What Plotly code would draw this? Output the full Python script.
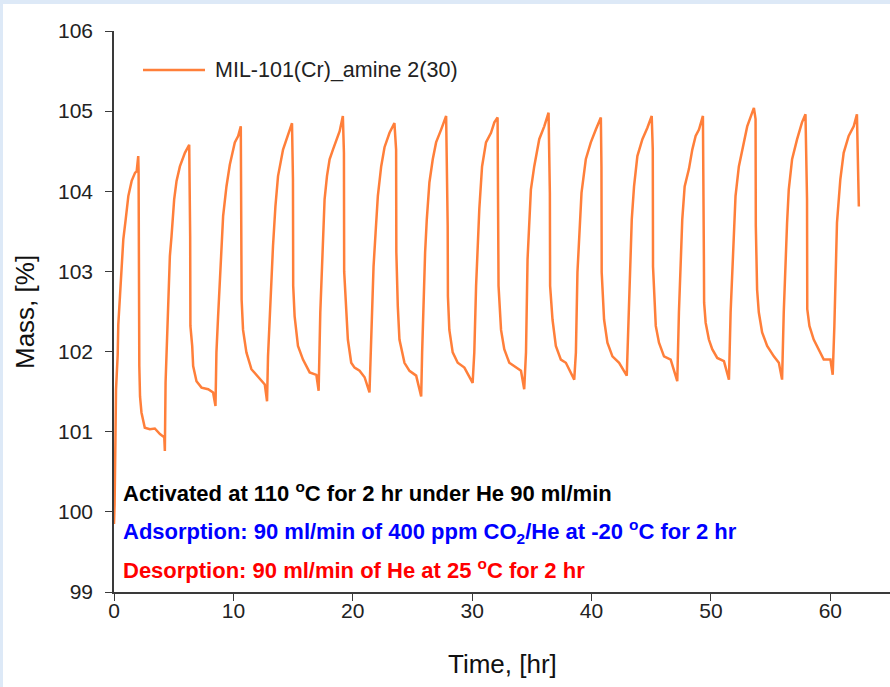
import plotly.graph_objects as go

# Thermogravimetric cycling record: sample mass vs. time
series_name = "MIL-101(Cr)_amine 2(30)"

time_hr = [
    0.00, 0.05, 0.12, 0.17, 0.31, 0.36, 0.50, 0.64, 0.78, 0.98, 1.20, 1.48, 1.76, 1.90, 2.03,
    2.06, 2.08, 2.12, 2.18, 2.30, 2.58, 3.00, 3.42, 3.85, 4.21, 4.26,
    4.32, 4.46, 4.54, 4.68, 4.82, 5.04, 5.24, 5.52, 5.94, 6.21, 6.30,
    6.38, 6.40, 6.55, 6.63, 6.91, 7.33, 7.89, 8.30, 8.50,
    8.58, 8.72, 8.86, 9.00, 9.14, 9.42, 9.70, 10.12, 10.40, 10.62,
    10.67, 10.69, 10.81, 11.09, 11.51, 12.07, 12.63, 12.82,
    12.90, 13.04, 13.18, 13.32, 13.52, 13.74, 14.16, 14.57, 14.91,
    14.99, 15.01, 15.13, 15.41, 15.83, 16.11, 16.39, 16.95, 17.14,
    17.28, 17.37, 17.50, 17.64, 17.84, 18.06, 18.34, 18.62, 18.90, 19.17,
    19.26, 19.28, 19.46, 19.59, 19.87, 20.15, 20.57, 20.99, 21.40,
    21.49, 21.63, 21.74, 21.91, 22.10, 22.38, 22.66, 23.08, 23.49,
    23.63, 23.65, 23.77, 23.91, 24.33, 24.75, 25.31, 25.73,
    25.81, 25.92, 26.06, 26.20, 26.42, 26.70, 26.98, 27.40, 27.82,
    27.95, 27.97, 28.09, 28.37, 28.79, 29.35, 30.04,
    30.18, 30.33, 30.46, 30.60, 30.83, 31.16, 31.58, 31.86, 32.13,
    32.19, 32.21, 32.42, 32.69, 33.11, 33.53, 34.09, 34.36,
    34.51, 34.64, 34.78, 34.92, 35.20, 35.62, 36.04, 36.40,
    36.51, 36.53, 36.73, 37.01, 37.43, 37.85, 38.55,
    38.69, 38.82, 38.96, 39.16, 39.52, 39.94, 40.36, 40.78,
    40.83, 40.85, 41.05, 41.33, 41.75, 42.31, 42.95,
    43.06, 43.23, 43.37, 43.56, 43.84, 44.26, 44.67, 45.04,
    45.13, 45.15, 45.38, 45.65, 46.07, 46.63, 47.18,
    47.32, 47.47, 47.60, 47.80, 48.16, 48.44, 48.72, 49.00, 49.33,
    49.41, 49.43, 49.56, 49.83, 50.11, 50.53, 51.09, 51.51,
    51.65, 51.78, 51.92, 52.06, 52.34, 52.62, 53.04, 53.60,
    53.74, 53.76, 53.87, 54.01, 54.29, 54.71, 55.27, 55.69, 55.96,
    56.10, 56.25, 56.38, 56.52, 56.80, 57.22, 57.63, 57.92,
    58.05, 58.07, 58.25, 58.61, 59.03, 59.45, 60.01, 60.20,
    60.34, 60.43, 60.56, 60.84, 61.12, 61.54, 61.96, 62.23,
    62.37, 62.39,
]

mass_pct = [
    99.85, 100.10, 100.90, 101.53, 101.96, 102.34, 102.69, 103.11, 103.40, 103.65, 103.94, 104.13, 104.23, 104.25, 104.44,
    104.25, 103.00, 101.82, 101.44, 101.24, 101.05, 101.03, 101.04, 100.97, 100.93, 100.76,
    101.61, 102.24, 102.57, 103.19, 103.44, 103.90, 104.13, 104.31, 104.48, 104.56, 104.58,
    103.44, 102.32, 102.07, 101.82, 101.63, 101.55, 101.53, 101.49, 101.32,
    101.99, 102.44, 102.86, 103.27, 103.69, 104.06, 104.33, 104.61, 104.69, 104.81,
    103.90, 102.65, 102.27, 101.99, 101.78, 101.68, 101.59, 101.38,
    101.94, 102.40, 102.90, 103.32, 103.81, 104.19, 104.52, 104.69, 104.85,
    104.15, 102.82, 102.44, 102.07, 101.90, 101.82, 101.74, 101.71, 101.51,
    102.49, 102.90, 103.32, 103.90, 104.19, 104.40, 104.52, 104.65, 104.75, 104.94,
    104.48, 103.00, 102.44, 102.15, 101.86, 101.80, 101.76, 101.68, 101.49,
    101.86, 102.61, 103.06, 103.48, 103.94, 104.31, 104.55, 104.73, 104.85,
    104.52, 103.24, 102.57, 102.15, 101.86, 101.76, 101.70, 101.44,
    101.99, 102.65, 103.24, 103.65, 104.11, 104.40, 104.61, 104.77, 104.94,
    103.57, 102.69, 102.27, 101.99, 101.86, 101.80, 101.61,
    101.99, 102.82, 103.36, 103.78, 104.31, 104.61, 104.73, 104.86, 104.92,
    103.81, 102.82, 102.27, 102.03, 101.86, 101.82, 101.76, 101.53,
    101.99, 103.15, 103.69, 104.02, 104.31, 104.65, 104.81, 104.98,
    103.98, 102.82, 102.40, 102.07, 101.90, 101.86, 101.65,
    101.99, 102.99, 103.48, 103.98, 104.40, 104.61, 104.77, 104.92,
    104.31, 102.99, 102.40, 102.11, 101.94, 101.86, 101.70,
    102.24, 103.06, 103.65, 104.06, 104.44, 104.65, 104.79, 104.94,
    104.52, 103.06, 102.32, 102.11, 101.94, 101.90, 101.63,
    102.49, 103.27, 103.65, 104.06, 104.28, 104.52, 104.69, 104.77, 104.94,
    103.19, 102.61, 102.36, 102.15, 102.03, 101.92, 101.88, 101.65,
    102.49, 102.99, 103.61, 103.94, 104.31, 104.52, 104.81, 105.04,
    104.90, 103.57, 102.77, 102.49, 102.24, 102.07, 101.94, 101.86, 101.65,
    102.49, 103.19, 103.61, 104.02, 104.40, 104.65, 104.86, 104.96,
    103.90, 102.53, 102.32, 102.15, 102.03, 101.90, 101.90, 101.71,
    102.32, 102.90, 103.61, 104.15, 104.48, 104.69, 104.81, 104.96,
    104.15, 103.81,
]

x_ticks = [0, 10, 20, 30, 40, 50, 60]
y_ticks = [99, 100, 101, 102, 103, 104, 105, 106]

condition_lines = [
    ("Activated at 110 <sup>o</sup>C for 2 hr under He 90 ml/min", "#000000"),
    ("Adsorption: 90 ml/min of 400 ppm CO<sub>2</sub>/He at -20 <sup>o</sup>C for 2 hr", "#0000ff"),
    ("Desorption: 90 ml/min of He at 25 <sup>o</sup>C for 2 hr", "#ff0000"),
]

LINE_COLOR = "#ff7f3a"
AXIS_COLOR = "#3a3a3a"
FONT = "Arial, Liberation Sans, sans-serif"

W, H = 890, 687
ML, MR, MT, MB = 114, 0, 31, 95
PW, PH = W - ML - MR, H - MT - MB


def px_x(p):
    # figure pixel -> paper fraction (horizontal)
    return (p - ML) / PW


def px_y(p):
    # figure pixel (from top) -> paper fraction (vertical)
    return 1 - (p - MT) / PH


fig = go.Figure()
fig.add_trace(go.Scatter(
    x=time_hr, y=mass_pct, mode="lines", name=series_name,
    line=dict(color=LINE_COLOR, width=2.5), showlegend=False,
))

axis_common = dict(
    showgrid=False, zeroline=False, showline=True, linecolor=AXIS_COLOR, linewidth=1.5,
    ticks="outside", ticklen=7, tickwidth=1.2, tickcolor=AXIS_COLOR,
    mirror=False,
)
fig.update_xaxes(range=[0, 65], tickvals=x_ticks, ticklabelstandoff=-8,
                 tickfont=dict(size=21, color="#222", family=FONT), **axis_common)
fig.update_yaxes(range=[99, 106], tickvals=y_ticks, ticklabelstandoff=8,
                 tickfont=dict(size=21, color="#222", family=FONT), **axis_common)

annotations = []
# axis titles
annotations.append(dict(text="Time, [hr]", x=px_x(502), y=px_y(664), xref="paper", yref="paper",
                        showarrow=False, font=dict(size=26, color="#111", family=FONT),
                        xanchor="center", yanchor="middle"))
annotations.append(dict(text="Mass, [%]", x=px_x(25), y=px_y(312), xref="paper", yref="paper",
                        showarrow=False, textangle=-90, font=dict(size=26, color="#111", family=FONT),
                        xanchor="center", yanchor="middle"))
# legend entry
annotations.append(dict(text=series_name, x=px_x(213), y=px_y(70), xref="paper", yref="paper",
                        showarrow=False, font=dict(size=21.5, color="#222", family=FONT),
                        xanchor="left", yanchor="middle"))
# experimental conditions
for (txt, col), yp in zip(condition_lines, [492, 531, 569]):
    annotations.append(dict(text="<b>" + txt + "</b>", x=px_x(121), y=px_y(yp), xref="paper", yref="paper",
                            showarrow=False, font=dict(size=22, color=col, family=FONT),
                            xanchor="left", yanchor="middle"))

shapes = [
    # legend line sample
    dict(type="line", xref="paper", yref="paper", x0=px_x(143), x1=px_x(205), y0=px_y(70), y1=px_y(70),
         line=dict(color=LINE_COLOR, width=2.5)),
    # light frame along the top and left edges of the page
    dict(type="rect", xref="paper", yref="paper", x0=px_x(0), x1=px_x(W), y0=px_y(0), y1=px_y(4),
         line=dict(width=0), fillcolor="#dde9f7", layer="below"),
    dict(type="rect", xref="paper", yref="paper", x0=px_x(0), x1=px_x(3), y0=px_y(0), y1=px_y(H),
         line=dict(width=0), fillcolor="#dde9f7", layer="below"),
]

fig.update_layout(
    width=W, height=H,
    margin=dict(l=ML, r=MR, t=MT, b=MB, pad=0),
    paper_bgcolor="white", plot_bgcolor="white",
    annotations=annotations, shapes=shapes,
    font=dict(family=FONT),
)

fig.write_html("out.html")
